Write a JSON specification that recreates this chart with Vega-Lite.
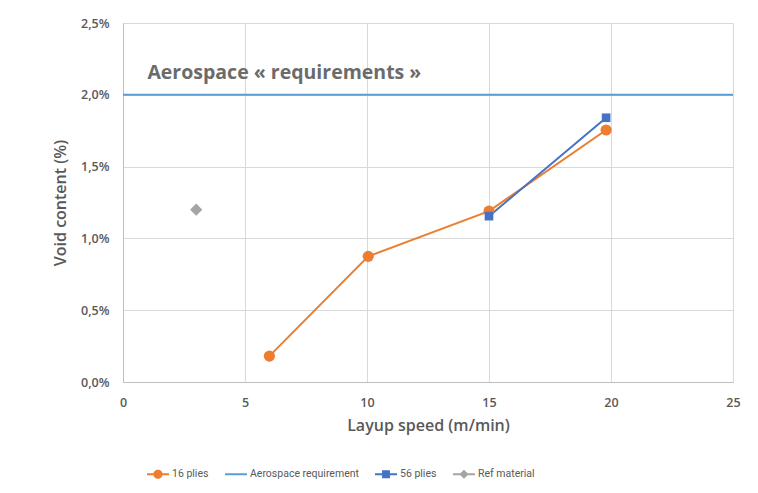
{
  "$schema": "https://vega.github.io/schema/vega-lite/v6.json",
  "width": 610,
  "height": 359,
  "autosize": {"type": "none"},
  "padding": {"left": 123, "top": 23, "right": 25, "bottom": 111},
  "background": "white",
  "config": {
    "font": "Open Sans",
    "view": {"stroke": null},
    "axis": {
      "gridColor": "#d9d9d9",
      "gridWidth": 1,
      "domainColor": "#bfbfbf",
      "ticks": false,
      "labelFlush": false,
      "labelColor": "#595959",
      "labelFontSize": 12.5,
      "labelFontWeight": 600,
      "titleColor": "#595959",
      "titleFontSize": 16,
      "titleFontWeight": 600
    }
  },
  "datasets": {
    "pts": [
      {"series": "16 plies", "speed": 6.0, "voids": 0.18},
      {"series": "16 plies", "speed": 10.05, "voids": 0.875},
      {"series": "16 plies", "speed": 15.0, "voids": 1.19},
      {"series": "16 plies", "speed": 19.8, "voids": 1.755},
      {"series": "56 plies", "speed": 15.0, "voids": 1.155},
      {"series": "56 plies", "speed": 19.8, "voids": 1.84},
      {"series": "Ref material", "speed": 3.0, "voids": 1.2}
    ],
    "req": [
      {"series": "Aerospace requirement", "voids": 2.0}
    ],
    "note": [
      {"label": "Aerospace « requirements »", "speed": 1.0, "voids": 2.15}
    ]
  },
  "layer": [
    {
      "data": {"name": "req"},
      "mark": {"type": "rule", "strokeWidth": 2},
      "encoding": {
        "y": {"field": "voids", "type": "quantitative", "scale": {"domain": [0, 2.5], "nice": false}},
        "color": {"field": "series", "type": "nominal"}
      }
    },
    {
      "data": {"name": "pts"},
      "mark": {"type": "line", "strokeWidth": 2},
      "encoding": {
        "x": {
          "field": "speed", "type": "quantitative",
          "scale": {"domain": [0, 25], "nice": false},
          "axis": {"values": [0, 5, 10, 15, 20, 25], "title": "Layup speed (m/min)", "labelPadding": 14, "titlePadding": 9, "domain": true}
        },
        "y": {
          "field": "voids", "type": "quantitative",
          "scale": {"domain": [0, 2.5], "nice": false},
          "axis": {
            "values": [0, 0.5, 1, 1.5, 2, 2.5],
            "labelExpr": "replace(format(datum.value, '.1f'), '.', ',') + '%'",
            "title": "Void content (%)",
            "labelPadding": 14,
            "titlePadding": 12,
            "domain": true
          }
        },
        "color": {
          "field": "series", "type": "nominal",
          "scale": {
            "domain": ["16 plies", "Aerospace requirement", "56 plies", "Ref material"],
            "range": ["#ED7D31", "#5B9BD5", "#4472C4", "#A5A5A5"]
          },
          "legend": {
            "title": null,
            "orient": "none",
            "direction": "horizontal",
            "legendX": 24,
            "legendY": 440,
            "labelColor": "#595959",
            "labelFont": "Roboto",
            "labelFontSize": 10.5,
            "labelOffset": 3,
            "columnPadding": 16,
            "symbolSize": 484,
            "encode": {
              "symbols": {
                "update": {
                  "shape": {"signal": "datum.value === '16 plies' ? 'M-1,-0.09L1,-0.09L1,0.09L-1,0.09ZM0.42,0A0.42,0.42 0 1,1 -0.42,0A0.42,0.42 0 1,1 0.42,0Z' : datum.value === '56 plies' ? 'M-1,-0.09L1,-0.09L1,0.09L-1,0.09ZM-0.36,-0.36L0.36,-0.36L0.36,0.36L-0.36,0.36Z' : datum.value === 'Ref material' ? 'M-1,-0.09L1,-0.09L1,0.09L-1,0.09ZM0,-0.42L0.42,0L0,0.42L-0.42,0Z' : 'M-1,-0.09L1,-0.09L1,0.09L-1,0.09Z'"},
                  "size": {"value": 484},
                  "fill": {"scale": "color", "field": "value"},
                  "stroke": {"value": "transparent"},
                  "strokeWidth": {"value": 0},
                  "opacity": {"value": 1},
                  "fillOpacity": {"value": 1}
                }
              }
            }
          }
        }
      }
    },
    {
      "data": {"name": "pts"},
      "transform": [{"filter": "datum.series === '16 plies'"}],
      "mark": {"type": "point", "filled": true, "opacity": 1, "shape": "circle", "size": 125, "color": "#ED7D31"},
      "encoding": {
        "x": {"field": "speed", "type": "quantitative"},
        "y": {"field": "voids", "type": "quantitative"}
      }
    },
    {
      "data": {"name": "pts"},
      "transform": [{"filter": "datum.series === '56 plies'"}],
      "mark": {"type": "point", "filled": true, "opacity": 1, "shape": "square", "size": 75, "color": "#4472C4"},
      "encoding": {
        "x": {"field": "speed", "type": "quantitative"},
        "y": {"field": "voids", "type": "quantitative"}
      }
    },
    {
      "data": {"name": "pts"},
      "transform": [{"filter": "datum.series === 'Ref material'"}],
      "mark": {"type": "point", "filled": true, "opacity": 1, "shape": "diamond", "size": 150, "color": "#A5A5A5"},
      "encoding": {
        "x": {"field": "speed", "type": "quantitative"},
        "y": {"field": "voids", "type": "quantitative"}
      }
    },
    {
      "data": {"name": "note"},
      "mark": {"type": "text", "align": "left", "baseline": "middle", "fontSize": 19.5, "fontWeight": "bold", "color": "#6b6b6b"},
      "encoding": {
        "x": {"field": "speed", "type": "quantitative"},
        "y": {"field": "voids", "type": "quantitative"},
        "text": {"field": "label"}
      }
    }
  ]
}
